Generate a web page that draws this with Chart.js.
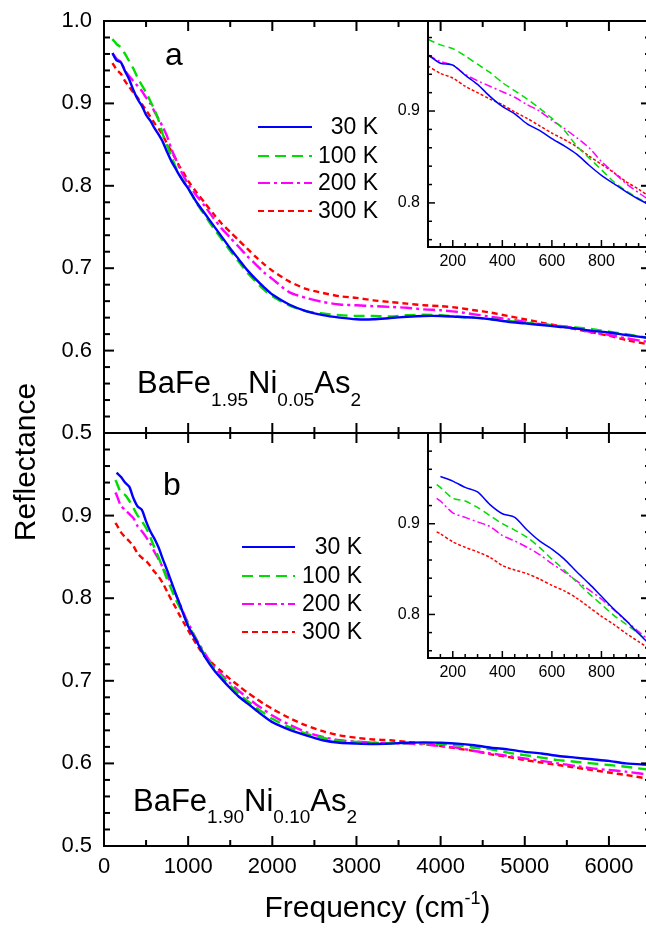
<!DOCTYPE html>
<html><head><meta charset="utf-8">
<script src="https://cdn.jsdelivr.net/npm/chart.js@4.4.1/dist/chart.umd.min.js"></script>
<style>
html,body{margin:0;padding:0;background:#fff;overflow:hidden}
#wrap{position:relative;width:646px;height:930px;overflow:hidden;background:#fff}
canvas{position:absolute;left:0;top:0;width:660px;height:930px}
</style></head><body>
<div id="wrap">
<canvas id="mainA" width="660" height="930"></canvas>
<canvas id="mainB" width="660" height="930"></canvas>
<canvas id="insetA" width="660" height="930"></canvas>
<canvas id="insetB" width="660" height="930"></canvas>
</div>
<script>
// ---------- data ----------
const tempLabels = ['30 K', '100 K', '200 K', '300 K'];

const freqA = [100,150,200,250,300,350,400,450,500,550,600,650,700,750,800,850,900,950,1000,
  1100,1200,1300,1400,1500,1600,1700,1800,1900,2000,
  2200,2400,2600,2800,3000,3200,3400,3600,3800,4000,4200,4400,4600,4800,5000,5200,5400,5600,5800,6000,6200,6500];
const a30K = [.961,.952,.950,.939,.929,.916,.905,.897,.886,.879,.870,.862,.853,.841,.830,.821,.812,.804,.797,
  .780,.766,.752,.738,.724,.711,.698,.687,.677,.668,
  .656,.648,.643,.640,.638,.638,.6395,.641,.642,.642,.641,.640,.638,.635,.633,.631,.629,.627,.624,.622,.619,.615];
const a100K = [.978,.972,.968,.960,.951,.942,.931,.922,.913,.903,.892,.879,.862,.849,.836,.823,.813,.805,.797,
  .779,.764,.749,.735,.721,.708,.695,.684,.674,.666,
  .655,.648,.645,.643,.642,.642,.6415,.643,.6435,.643,.641,.640,.638,.636,.634,.632,.630,.628,.626,.623,.620,.615];
const a200K = [.961,.954,.950,.940,.933,.927,.921,.915,.907,.900,.890,.881,.871,.860,.845,.833,.821,.811,.802,
  .788,.775,.761,.748,.737,.726,.715,.705,.695,.687,
  .671,.664,.659,.656,.655,.654,.653,.652,.650,.649,.647,.644,.641,.638,.635,.632,.630,.627,.622,.619,.615,.610];
const a300K = [.949,.941,.936,.927,.920,.913,.907,.899,.892,.884,.876,.869,.861,.851,.842,.833,.823,.815,.806,
  .792,.779,.766,.754,.744,.734,.724,.714,.705,.697,
  .684,.675,.670,.666,.664,.661,.659,.657,.655,.654,.652,.649,.646,.642,.638,.634,.630,.626,.622,.618,.613,.607];

const freqB = [135,150,200,250,300,350,400,450,500,550,600,650,700,750,800,850,900,950,1000,
  1100,1200,1300,1400,1500,1600,1700,1800,1900,2000,
  2200,2400,2600,2800,3000,3200,3400,3600,3800,4000,4200,4400,4600,4800,5000,5200,5400,5600,5800,6000,6200,6500];
const b30K = [null,.952,.947,.940,.935,.921,.911,.907,.893,.881,.872,.861,.847,.834,.820,.806,.793,.779,.766,
  .748,.729,.714,.702,.691,.681,.673,.665,.657,.650,
  .641,.634,.628,.625,.624,.6235,.624,.625,.6255,.625,.624,.622,.619,.617,.614,.612,.609,.607,.605,.603,.600,.598];
const b100K = [.943,.940,.928,.925,.918,.909,.900,.893,.885,.874,.861,.849,.836,.823,.811,.799,.789,.779,.768,
  .749,.731,.716,.705,.694,.684,.676,.668,.661,.654,
  .644,.636,.631,.627,.626,.625,.6244,.6245,.6245,.6235,.622,.619,.617,.613,.610,.607,.604,.602,.600,.598,.596,.592];
const b200K = [.928,.925,.912,.907,.902,.897,.887,.881,.874,.866,.856,.847,.837,.827,.817,.805,.793,.781,.770,
  .750,.733,.718,.707,.697,.688,.680,.672,.665,.658,
  .647,.638,.632,.628,.6265,.625,.6245,.624,.623,.621,.619,.615,.612,.609,.606,.603,.600,.597,.594,.592,.590,.586];
const b300K = [.891,.889,.880,.874,.869,.863,.854,.849,.845,.839,.832,.826,.818,.808,.798,.789,.779,.770,.761,
  .744,.729,.720,.711,.702,.694,.686,.679,.672,.666,
  .655,.646,.639,.634,.631,.629,.628,.626,.624,.621,.618,.615,.611,.608,.604,.601,.598,.595,.592,.589,.586,.581];

// tick values / labels
const mainXLabels = [0,1000,2000,3000,4000,5000,6000];
const mainXMinor = [500,1500,2500,3500,4500,5500,6500];
const mainYLabelsA = [0.5,0.6,0.7,0.8,0.9,1.0];
const mainYLabelsB = [0.5,0.6,0.7,0.8,0.9];
const mainYMinor = [0.52,0.54,0.56,0.58,0.62,0.64,0.66,0.68,0.72,0.74,0.76,0.78,0.82,0.84,0.86,0.88,0.92,0.94,0.96,0.98];
const insetXLabels = [200,400,600,800];
const insetXMinor = [150,250,300,350,450,500,550,650,700,750,850,900,950];
const insetYLabels = [0.8,0.9];
const insetYMinor = [0.76,0.78,0.82,0.84,0.86,0.88,0.92,0.94,0.96,0.98];

const formulaA = [['BaFe',0],['1.95',1],['Ni',0],['0.05',1],['As',0],['2',1]];
const formulaB = [['BaFe',0],['1.90',1],['Ni',0],['0.10',1],['As',0],['2',1]];

// ---------- styles ----------
const FONT = '"Liberation Sans", Arial, Helvetica, sans-serif';
const colors = ['#0000ff', '#00dd00', '#ff00ff', '#ff0000'];
const mainDash = [[], [11,6], [12,4,3,4], [6,4]];
const insetDash = [[], [7,4], [8,3,2,3], [3,2]];

function makeSets(freq, vals, lw, dashes) {
  return vals.map((v, i) => ({
    label: tempLabels[i],
    data: freq.map((f, j) => ({x: f, y: v[j]})),
    borderColor: colors[i], backgroundColor: colors[i],
    borderWidth: lw, borderDash: dashes[i],
    pointRadius: 0, tension: 0.25, fill: false
  }));
}

const frameTicks = {
  id: 'frameTicks',
  afterDraw(chart, args, o) {
    const {ctx, chartArea: a} = chart;
    const xs = chart.scales.x, ys = chart.scales.y;
    ctx.save();
    ctx.strokeStyle = '#000'; ctx.lineCap = 'butt';
    const seg = (x1,y1,x2,y2) => {ctx.beginPath(); ctx.moveTo(x1,y1); ctx.lineTo(x2,y2); ctx.stroke();};
    ctx.lineWidth = o.tickWidth;
    const doX = (vals, len) => vals.forEach(v => {
      const p = xs.getPixelForValue(v);
      if (p < a.left - 0.5 || p > a.right + 0.5) return;
      if (o.xSides.includes('bottom')) seg(p, a.bottom, p, a.bottom - len);
      if (o.xSides.includes('top')) seg(p, a.top, p, a.top + len);
    });
    const doY = (vals, len) => vals.forEach(v => {
      const p = ys.getPixelForValue(v);
      if (p < a.top - 0.5 || p > a.bottom + 0.5) return;
      if (o.ySides.includes('left')) seg(a.left, p, a.left + len, p);
      if (o.ySides.includes('right')) seg(a.right, p, a.right - len, p);
    });
    doX(o.xMajor, o.majLen); doX(o.xMinor, o.minLen);
    doY(o.yMajor, o.majLen); doY(o.yMinor, o.minLen);
    ctx.lineWidth = o.frameWidth;
    ctx.strokeRect(a.left, a.top, a.right - a.left, a.bottom - a.top);
    ctx.restore();
  }
};

function drawFormula(ctx, parts, x, y, big, small, drop) {
  ctx.textBaseline = 'alphabetic'; ctx.textAlign = 'left'; ctx.fillStyle = '#000';
  let cx = x;
  parts.forEach(([t, sub]) => {
    ctx.font = (sub ? small : big) + 'px ' + FONT;
    ctx.fillText(t, cx, sub ? y + drop : y);
    cx += ctx.measureText(t).width;
  });
}

function drawLegend(ctx, chart, lx1, lx2, textRight, rows) {
  ctx.save();
  chart.data.datasets.forEach((ds, i) => {
    ctx.strokeStyle = ds.borderColor; ctx.lineWidth = 2.2;
    ctx.setLineDash(mainDash[i]);
    ctx.beginPath(); ctx.moveTo(lx1, rows[i]); ctx.lineTo(lx2, rows[i]); ctx.stroke();
    ctx.setLineDash([]);
    ctx.fillStyle = '#000'; ctx.font = '23px ' + FONT;
    ctx.textAlign = 'right'; ctx.textBaseline = 'middle';
    ctx.fillText(ds.label, textRight, rows[i] + 1);
  });
  ctx.restore();
}

const annotA = {
  id: 'annotA',
  afterDraw(chart) {
    const ctx = chart.ctx;
    ctx.save();
    ctx.fillStyle = '#000'; ctx.font = '32px ' + FONT; ctx.textAlign = 'left'; ctx.textBaseline = 'alphabetic';
    ctx.fillText('a', 165, 65);
    drawFormula(ctx, formulaA, 137, 393, 31, 19, 13);
    drawLegend(ctx, chart, 258, 312, 378, [127, 156, 183, 211]);
    ctx.restore();
  }
};
const annotB = {
  id: 'annotB',
  afterDraw(chart) {
    const ctx = chart.ctx;
    ctx.save();
    ctx.fillStyle = '#000'; ctx.font = '32px ' + FONT; ctx.textAlign = 'left'; ctx.textBaseline = 'alphabetic';
    ctx.fillText('b', 163, 495);
    drawFormula(ctx, formulaB, 133, 811, 31, 19, 12);
    drawLegend(ctx, chart, 242, 295, 362, [547, 576, 604, 632]);
    // axis titles
    ctx.font = '30px ' + FONT; ctx.textAlign = 'left'; ctx.textBaseline = 'alphabetic';
    const t1 = 'Frequency (cm', sup = '-1', t2 = ')';
    const w1 = ctx.measureText(t1).width, w3 = ctx.measureText(t2).width;
    ctx.font = '18px ' + FONT; const w2 = ctx.measureText(sup).width;
    const a = chart.chartArea;
    let x0 = (a.left + a.right) / 2 - (w1 + w2 + w3) / 2;
    ctx.font = '30px ' + FONT; ctx.fillText(t1, x0, 917);
    ctx.font = '18px ' + FONT; ctx.fillText(sup, x0 + w1, 904);
    ctx.font = '30px ' + FONT; ctx.fillText(t2, x0 + w1 + w2, 917);
    ctx.translate(35, 462); ctx.rotate(-Math.PI / 2);
    ctx.textAlign = 'center'; ctx.fillText('Reflectance', 0, 0);
    ctx.restore();
  }
};

function fmtY(v) { return (Math.round(v * 10) / 10).toFixed(1); }
function noPad(s) { s.paddingTop = 0; s.paddingBottom = 0; s.paddingLeft = 0; s.paddingRight = 0; }

function mainConfig(freq, vals, area, yLabels, showX, annot) {
  return {
    type: 'line',
    data: {datasets: makeSets(freq, vals, 2.4, mainDash)},
    options: {
      responsive: false, animation: false, devicePixelRatio: 1,
      layout: {padding: {left: 0, top: area.top, right: 660 - area.right, bottom: 0}},
      plugins: {legend: {display: false}, tooltip: {enabled: false},
        frameTicks: {tickWidth: 2, frameWidth: 2, majLen: 10, minLen: 6,
          xMajor: mainXLabels, xMinor: mainXMinor, yMajor: mainYLabelsA, yMinor: mainYMinor,
          xSides: ['bottom', 'top'], ySides: ['left', 'right']}},
      scales: {
        x: {type: 'linear', min: 0, max: 6500, display: true,
          grid: {display: false, drawTicks: false}, border: {display: false},
          afterBuildTicks: s => { s.ticks = mainXLabels.map(v => ({value: v})); },
          afterFit: s => { s.height = 930 - area.bottom; noPad(s); },
          ticks: {display: showX, autoSkip: false, maxRotation: 0, padding: 8, color: '#000', font: {family: FONT, size: 22},
            callback: v => String(v)}},
        y: {type: 'linear', min: 0.5, max: 1.0,
          grid: {display: false, drawTicks: false}, border: {display: false},
          afterBuildTicks: s => { s.ticks = yLabels.map(v => ({value: v})); },
          afterFit: s => { s.width = area.left; noPad(s); },
          ticks: {autoSkip: false, padding: 12, color: '#000', font: {family: FONT, size: 22},
            callback: v => fmtY(v)}}
      }
    },
    plugins: [frameTicks, annot]
  };
}

function insetConfig(freq, vals, area, ymin, ymax) {
  return {
    type: 'line',
    data: {datasets: makeSets(freq, vals, 1.5, insetDash)},
    options: {
      responsive: false, animation: false, devicePixelRatio: 1,
      layout: {padding: {left: 0, top: area.top, right: 660 - area.right, bottom: 930 - area.bottom - 30}},
      plugins: {legend: {display: false}, tooltip: {enabled: false},
        frameTicks: {tickWidth: 1.5, frameWidth: 2, majLen: 7, minLen: 4,
          xMajor: insetXLabels, xMinor: insetXMinor, yMajor: insetYLabels, yMinor: insetYMinor,
          xSides: ['bottom'], ySides: ['left']}},
      scales: {
        x: {type: 'linear', min: 100, max: 1000,
          grid: {display: false, drawTicks: false}, border: {display: false},
          afterBuildTicks: s => { s.ticks = insetXLabels.map(v => ({value: v})); },
          afterFit: s => { s.height = 30; noPad(s); },
          ticks: {autoSkip: false, maxRotation: 0, padding: 5, color: '#000', font: {family: FONT, size: 16},
            callback: v => String(v)}},
        y: {type: 'linear', min: ymin, max: ymax,
          grid: {display: false, drawTicks: false}, border: {display: false},
          afterBuildTicks: s => { s.ticks = insetYLabels.map(v => ({value: v})); },
          afterFit: s => { s.width = area.left; noPad(s); },
          ticks: {autoSkip: false, padding: 8, color: '#000', font: {family: FONT, size: 16},
            callback: v => fmtY(v)}}
      }
    },
    plugins: [frameTicks]
  };
}

new Chart(document.getElementById('mainA'),
  mainConfig(freqA, [a30K, a100K, a200K, a300K], {left: 104, top: 21, right: 651, bottom: 433}, mainYLabelsA, false, annotA));
new Chart(document.getElementById('mainB'),
  mainConfig(freqB, [b30K, b100K, b200K, b300K], {left: 104, top: 433, right: 651, bottom: 846}, mainYLabelsB, true, annotB));
new Chart(document.getElementById('insetA'),
  insetConfig(freqA, [a30K, a100K, a200K, a300K], {left: 428, top: 21, right: 651, bottom: 247}, 0.752, 0.998));
new Chart(document.getElementById('insetB'),
  insetConfig(freqB, [b30K, b100K, b200K, b300K], {left: 428, top: 433, right: 651, bottom: 658}, 0.752, 1.0));
</script>
</body></html>
